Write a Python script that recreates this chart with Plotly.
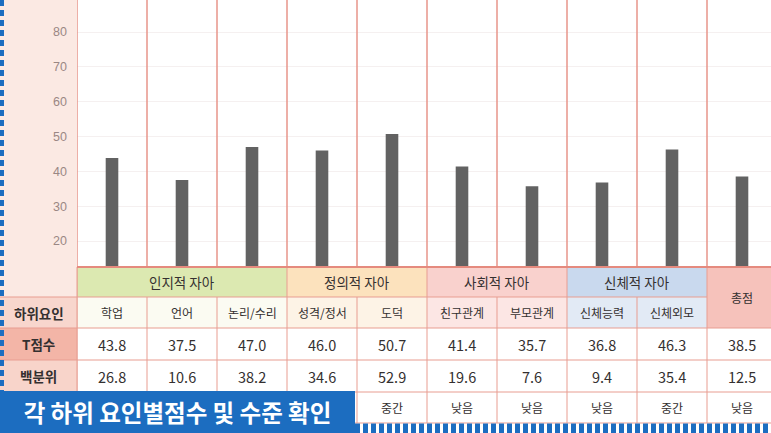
import plotly.graph_objects as go

# ---- data -------------------------------------------------------------
groups = ["인지적 자아", "정의적 자아", "사회적 자아", "신체적 자아"]
group_sizes = [3, 2, 2, 2]
subfactors = ["학업", "언어", "논리/수리", "성격/정서", "도덕",
              "친구관계", "부모관계", "신체능력", "신체외모", "총점"]
t_scores = [43.8, 37.5, 47.0, 46.0, 50.7, 41.4, 35.7, 36.8, 46.3, 38.5]
percentiles = [26.8, 10.6, 38.2, 34.6, 52.9, 19.6, 7.6, 9.4, 35.4, 12.5]
levels = ["낮음", "낮음", "중간", "중간", "중간", "낮음", "낮음", "낮음", "중간", "낮음"]
row_labels = ["하위요인", "T점수", "백분위"]
y_ticks = [20, 30, 40, 50, 60, 70, 80]
banner_text = "각 하위 요인별점수 및 수준 확인"

# ---- page geometry (pixels) --------------------------------------------
W, H = 771, 433
LEFT = 77                       # width of the row-label column
COL_W = 70                      # width of one sub-factor column
ROWS = [267, 297, 328, 360, 392, 423]   # table row edges, top to bottom
BANNER_W, BANNER_TOP = 355, 391

FONT = "Noto Sans CJK KR"
TXT = "#343030"
GRID = "#e89d91"
BLUE = "#1c6dc0"

group_fill = ["#dce9b1", "#fce2bd", "#f9d1cd", "#c9d9ee"]
sub_fill = ["#fbfbf2", "#fdf3e6", "#fce6e4", "#e2eaf5"]
total_fill = "#f6c2bb"


def py(p):
    return 1 - p / H


def px(p):
    return p / W


n = len(subfactors)
idx = list(range(n))
shapes = []
annotations = []


def rect(x0, x1, y0, y1, fill, xref="x", layer="above"):
    shapes.append(dict(type="rect", xref=xref, yref="paper", x0=x0, x1=x1,
                       y0=py(y1), y1=py(y0), fillcolor=fill, line_width=0,
                       layer=layer))


def hline(y, x0, x1, xref="paper", color=GRID, width=1):
    shapes.append(dict(type="line", xref=xref, yref="paper", x0=x0, x1=x1,
                       y0=py(y), y1=py(y), line=dict(color=color, width=width)))


def vline(x, y0, y1, xref="x", color=GRID, width=1):
    shapes.append(dict(type="line", xref=xref, yref="paper", x0=x, x1=x,
                       y0=py(y0), y1=py(y1), line=dict(color=color, width=width)))


def label(x, y, text, size=13, color=TXT, xref="x", bold=False):
    if bold:
        text = "<b>" + text + "</b>"
    annotations.append(dict(x=x, y=py(y), xref=xref, yref="paper", text=text,
                            showarrow=False, xanchor="center", yanchor="middle",
                            font=dict(family=FONT, size=size, color=color)))


# left label column background (kept under the y tick labels)
rect(0, px(LEFT), 0, ROWS[1], "#fbe9e3", xref="paper", layer="below")
for (top, bot), fill in zip(zip(ROWS[1:4], ROWS[2:5]), ["#f8d6cd", "#f3b5a7", "#f8d4ca"]):
    rect(0, px(LEFT), top, bot, fill, xref="paper", layer="below")

# group header row and sub-factor row fills
start = 0
group_edges = [-0.5]
for g, size, gf, sf in zip(groups, group_sizes, group_fill, sub_fill):
    rect(start - 0.5, start + size - 0.5, ROWS[0], ROWS[1], gf)
    rect(start - 0.5, start + size - 0.5, ROWS[1], ROWS[2], sf)
    label(start + (size - 1) / 2, (ROWS[0] + ROWS[1]) / 2, g, size=13.5)
    start += size
    group_edges.append(start - 0.5)
rect(n - 1.5, n - 0.5, ROWS[0], ROWS[2], total_fill)
label(n - 1, (ROWS[0] + ROWS[2]) / 2, subfactors[-1], size=12)

# table grid
for y in ROWS[2:5]:
    hline(y, 0, 1)
hline(ROWS[1], 0, px(LEFT))
hline(ROWS[1], -0.5, n - 1.5, xref="x")
hline(ROWS[5], px(LEFT), 1)

all_edges = [i - 0.5 for i in range(n + 1)]
for e in all_edges:
    vline(e, 0, ROWS[0], color="#e7958a", width=1.5)
    vline(e, ROWS[1], ROWS[5])
for e in group_edges + [n - 0.5]:
    vline(e, ROWS[0], ROWS[1])
vline(px(LEFT), ROWS[0], ROWS[5], xref="paper")
hline(ROWS[0], px(LEFT), 1, color="#e58a7e", width=2)

# table text
centers = [(a + b) / 2 for a, b in zip(ROWS[1:], ROWS[2:])]
for i in idx[:-1]:
    label(i, centers[0], subfactors[i], size=12)
for i in idx:
    label(i, centers[1], f"{t_scores[i]:.1f}", size=14.5)
    label(i, centers[2], f"{percentiles[i]:.1f}", size=14.5)
    # the caption banner covers the level cells of the first columns
    if LEFT + i * COL_W >= BANNER_W - COL_W / 2:
        label(i, centers[3], levels[i], size=12)
for name, cy in zip(row_labels, centers[:3]):
    label(px(LEFT) / 2, cy, name, size=13.5, xref="paper", bold=True)

# blue decorative borders
shapes.append(dict(type="line", xref="paper", yref="paper", x0=px(2), x1=px(2),
                   y0=py(0), y1=py(BANNER_TOP),
                   line=dict(color=BLUE, width=4, dash="6px,4px")))
shapes.append(dict(type="line", xref="paper", yref="paper", x0=px(BANNER_W), x1=1,
                   y0=py(428.5), y1=py(428.5),
                   line=dict(color=BLUE, width=10, dash="5px,3px")))

# caption banner
annotations.append(dict(x=0, y=0, xref="paper", yref="paper", xanchor="left",
                        yanchor="bottom", width=BANNER_W, height=H - BANNER_TOP,
                        bgcolor=BLUE, borderpad=0, borderwidth=0,
                        text="<b>" + banner_text + "</b>", showarrow=False,
                        align="center", valign="middle",
                        font=dict(family=FONT, size=23.5, color="white")))

fig = go.Figure(go.Bar(x=subfactors, y=t_scores, width=0.18,
                       marker=dict(color="#626262", line_width=0),
                       hoverinfo="x+y"))

y_lo, y_hi = 12.54, 89.19
fig.update_layout(
    width=W, height=H, margin=dict(l=0, r=0, t=0, b=0),
    paper_bgcolor="white", plot_bgcolor="white", showlegend=False,
    font=dict(family=FONT),
    xaxis=dict(domain=[px(LEFT), 1], range=[-0.5, -0.5 + (W - LEFT) / COL_W],
               showticklabels=False, showgrid=False, zeroline=False, fixedrange=True),
    yaxis=dict(domain=[py(ROWS[0]), 1], range=[y_lo, y_hi], tickvals=y_ticks,
               showgrid=True, gridcolor="#f5f0f0", zeroline=False, ticks="",
               ticklabelstandoff=9,
               tickfont=dict(family="Liberation Sans", size=12.5, color="#9a8784")),
    shapes=shapes, annotations=annotations,
)

fig.write_html("out.html")
